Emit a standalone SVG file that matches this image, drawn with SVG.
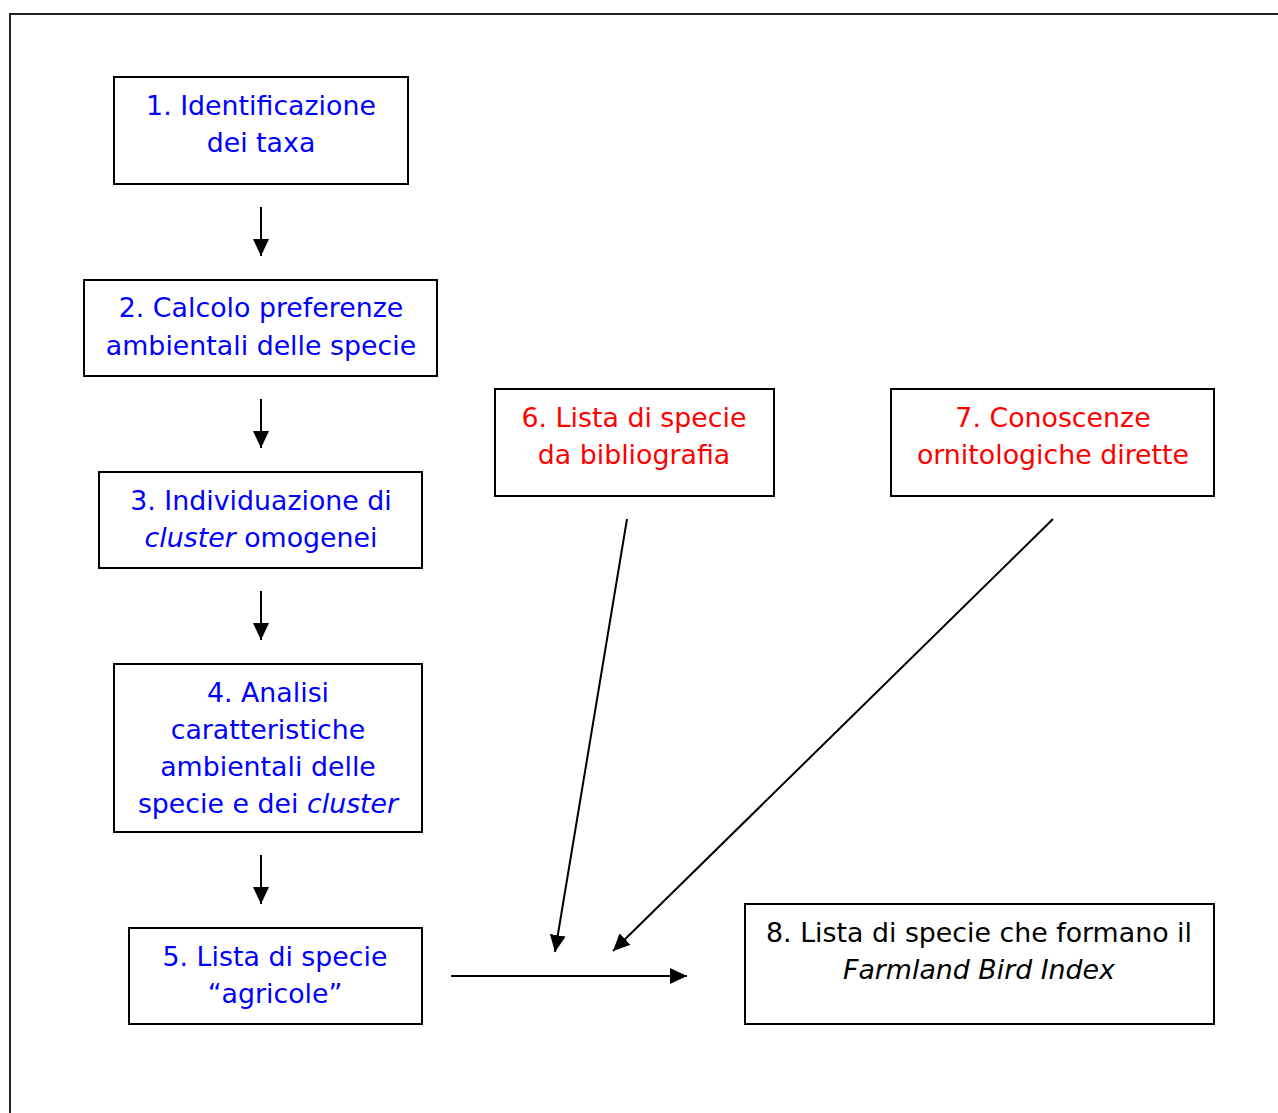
<svg xmlns="http://www.w3.org/2000/svg" width="1278" height="1113" viewBox="0 0 1278 1113">
<defs>
<marker id="ah" markerUnits="userSpaceOnUse" markerWidth="17" markerHeight="16" viewBox="0 0 17 16" refX="17" refY="8" orient="auto">
<path d="M0,0 L17,8 L0,16 Z" fill="#000"/>
</marker>
</defs>
<style>
.box{fill:#fff;stroke:#000;stroke-width:2}
.t{font-family:"DejaVu Sans","Verdana",sans-serif;font-size:26.8px;text-anchor:middle}
.b{fill:#0000ff}
.r{fill:#ff0000}
.k{fill:#000}
.con line{stroke:#000;stroke-width:2;marker-end:url(#ah)}
</style>
<rect width="1278" height="1113" fill="#fff"/>
<path d="M10,1113 L10,14 L1278,14" fill="none" stroke="#222" stroke-width="2"/>
<g id="n1">
<rect class="box" x="114" y="77" width="294" height="107"/>
<text class="t b" x="261" y="115">1. Identificazione</text>
<text class="t b" x="261" y="152">dei taxa</text>
</g>
<g id="n2">
<rect class="box" x="84" y="280" width="353" height="96"/>
<text class="t b" x="261" y="317">2. Calcolo preferenze</text>
<text class="t b" x="261" y="355">ambientali delle specie</text>
</g>
<g id="n3">
<rect class="box" x="99" y="472" width="323" height="96"/>
<text class="t b" x="261" y="510">3. Individuazione di</text>
<text class="t b" x="261" y="547"><tspan font-style="italic">cluster</tspan> omogenei</text>
</g>
<g id="n4">
<rect class="box" x="114" y="664" width="308" height="168"/>
<text class="t b" x="268" y="702">4. Analisi</text>
<text class="t b" x="268" y="739">caratteristiche</text>
<text class="t b" x="268" y="776">ambientali delle</text>
<text class="t b" x="268" y="813">specie e dei <tspan font-style="italic">cluster</tspan></text>
</g>
<g id="n5">
<rect class="box" x="129" y="928" width="293" height="96"/>
<text class="t b" x="275" y="966">5. Lista di specie</text>
<text class="t b" x="275" y="1003">“agricole”</text>
</g>
<g id="n6">
<rect class="box" x="495" y="389" width="279" height="107"/>
<text class="t r" x="634" y="427">6. Lista di specie</text>
<text class="t r" x="634" y="464">da bibliografia</text>
</g>
<g id="n7">
<rect class="box" x="891" y="389" width="323" height="107"/>
<text class="t r" x="1053" y="427">7. Conoscenze</text>
<text class="t r" x="1053" y="464">ornitologiche dirette</text>
</g>
<g id="n8">
<rect class="box" x="745" y="904" width="469" height="120"/>
<text class="t k" x="979" y="942">8. Lista di specie che formano il</text>
<text class="t k" x="979" y="979" font-style="italic">Farmland Bird Index</text>
</g>
<g id="connectors" class="con">
<line x1="261" y1="207" x2="261" y2="256"/>
<line x1="261" y1="399" x2="261" y2="448"/>
<line x1="261" y1="591" x2="261" y2="640"/>
<line x1="261" y1="855" x2="261" y2="904"/>
<line x1="451" y1="976" x2="687" y2="976"/>
<line x1="627" y1="519" x2="555" y2="952"/>
<line x1="1053" y1="519" x2="613" y2="951"/>
</g>
</svg>
